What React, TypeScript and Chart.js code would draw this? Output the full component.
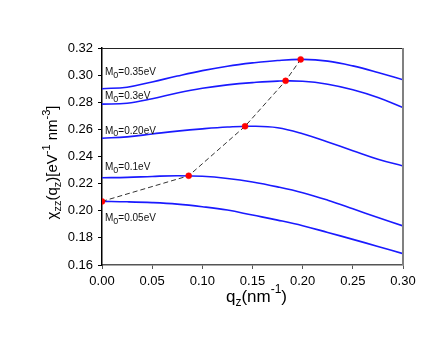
import React, { useEffect, useRef } from "react";
import { Chart, registerables } from "chart.js";

Chart.register(...registerables);

// ---- data ----
const qValues = [0, 0.025, 0.05, 0.075, 0.1, 0.125, 0.15, 0.175, 0.2, 0.225, 0.25, 0.275, 0.3];
const chiM035 = [0.29, 0.2911, 0.295, 0.2993, 0.3033, 0.3066, 0.309, 0.3108, 0.3116, 0.3103, 0.3068, 0.302, 0.2966];
const chiM030 = [0.2786, 0.2793, 0.2826, 0.2868, 0.2903, 0.2928, 0.2945, 0.2956, 0.2955, 0.2933, 0.2892, 0.2835, 0.2761];
const chiM020 = [0.2535, 0.2545, 0.2566, 0.2587, 0.2604, 0.2617, 0.2623, 0.2612, 0.2568, 0.2507, 0.2443, 0.238, 0.233];
const chiM010 = [0.2243, 0.2246, 0.2253, 0.2258, 0.2254, 0.2238, 0.2212, 0.2176, 0.2133, 0.2078, 0.2015, 0.195, 0.1888];
const chiM005 = [0.2069, 0.2066, 0.206, 0.2049, 0.203, 0.2005, 0.1968, 0.1931, 0.189, 0.184, 0.1789, 0.1737, 0.1684];

const peakQ = [0, 0.0864, 0.1426, 0.183, 0.198];
const peakChi = [0.2069, 0.2258, 0.2623, 0.2958, 0.3116];

const curveLabels = ["0.35eV", "0.3eV", "0.20eV", "0.1eV", "0.05eV"];
const labelChi = [0.2999, 0.2821, 0.2566, 0.23, 0.1923];

const xMin = 0, xMax = 0.3, xStep = 0.05;
const yMin = 0.16, yMax = 0.32, yStep = 0.02;

const FONT = "'Liberation Sans', Arial, Helvetica, sans-serif";

type Seg = { t: string; k?: "n" | "sub" | "sup" };

function segFont(k: string | undefined, size: number, ratio: number) {
  const s = k === "sub" || k === "sup" ? Math.round(size * ratio) : size;
  return `${s}px ${FONT}`;
}

function richWidth(ctx: CanvasRenderingContext2D, segs: Seg[], size: number, ratio: number) {
  let w = 0;
  for (const s of segs) {
    ctx.font = segFont(s.k, size, ratio);
    w += ctx.measureText(s.t).width;
  }
  return w;
}

function drawRich(
  ctx: CanvasRenderingContext2D,
  segs: Seg[],
  x: number,
  y: number,
  size: number,
  ratio: number,
  subDrop: number,
  supRise: number
) {
  let cx = x;
  ctx.textBaseline = "alphabetic";
  ctx.textAlign = "left";
  for (const s of segs) {
    ctx.font = segFont(s.k, size, ratio);
    const dy = s.k === "sub" ? subDrop : s.k === "sup" ? -supRise : 0;
    ctx.fillText(s.t, cx, y + dy);
    cx += ctx.measureText(s.t).width;
  }
}

const yTitle: Seg[] = [
  { t: "\u03c7" },
  { t: "zz", k: "sub" },
  { t: "(q" },
  { t: "z", k: "sub" },
  { t: ")[eV" },
  { t: "-1", k: "sup" },
  { t: " nm" },
  { t: "-3", k: "sup" },
  { t: "]" },
];
const xTitle: Seg[] = [
  { t: "q" },
  { t: "z", k: "sub" },
  { t: "(nm" },
  { t: "-1", k: "sup" },
  { t: ")" },
];

const decorPlugin = {
  id: "decor",
  afterDraw(chart: any) {
    const ctx: CanvasRenderingContext2D = chart.ctx;
    const { left, right, top, bottom } = chart.chartArea;
    const xs = chart.scales.x;
    const ys = chart.scales.y;
    ctx.save();
    // frame top and right
    ctx.strokeStyle = "#222";
    ctx.lineWidth = 1;
    ctx.beginPath();
    ctx.moveTo(left, top + 0.5);
    ctx.lineTo(right, top + 0.5);
    ctx.stroke();
    ctx.strokeStyle = "#808080";
    ctx.lineWidth = 2;
    ctx.beginPath();
    ctx.moveTo(right, top);
    ctx.lineTo(right, bottom);
    ctx.stroke();

    // curve labels
    ctx.fillStyle = "#111";
    curveLabels.forEach((lab, i) => {
      const px = xs.getPixelForValue(0) + 3;
      const py = ys.getPixelForValue(labelChi[i]);
      drawRich(ctx, [{ t: "M" }, { t: "0", k: "sub" }, { t: "=" + lab }], px, py, 10, 0.85, 2.5, 0);
    });

    // y title
    ctx.fillStyle = "#000";
    ctx.save();
    ctx.translate(57, (top + bottom) / 2 + 6);
    ctx.rotate(-Math.PI / 2);
    const wy = richWidth(ctx, yTitle, 15, 0.72);
    drawRich(ctx, yTitle, -wy / 2, 0, 15, 0.72, 4, 7);
    ctx.restore();

    // x title
    const wx = richWidth(ctx, xTitle, 17, 0.72);
    drawRich(ctx, xTitle, (left + right) / 2 + 4 - wx / 2, 302, 17, 0.72, 4, 9);
    ctx.restore();
  },
};

export default function App() {
  const ref = useRef<HTMLCanvasElement | null>(null);

  useEffect(() => {
    document.body.style.margin = "0";
    const canvas = ref.current;
    if (!canvas) return;
    const curves = [chiM035, chiM030, chiM020, chiM010, chiM005];
    const curveSets = curves.map((arr) => ({
      type: "line" as const,
      data: qValues.map((q, i) => ({ x: q, y: arr[i] })),
      borderColor: "#1a1aff",
      borderWidth: 1.6,
      pointRadius: 0,
      tension: 0.4,
      fill: false,
      order: 1,
    }));
    const peakSet = {
      type: "line" as const,
      data: peakQ.map((q, i) => ({ x: q, y: peakChi[i] })),
      borderColor: "#333",
      borderWidth: 1,
      borderDash: [5, 3],
      pointRadius: 3,
      pointBackgroundColor: "#ff0000",
      pointBorderColor: "#ff0000",
      pointBorderWidth: 0.5,
      tension: 0,
      fill: false,
      order: 0,
    };

    const tickFont = { family: FONT, size: 13 };
    const chart = new Chart(canvas, {
      type: "line",
      data: { datasets: [peakSet, ...curveSets] as any },
      options: {
        responsive: false,
        animation: false,
        devicePixelRatio: 1,
        layout: { padding: { top: 48, right: 33, left: 0, bottom: 0 } },
        plugins: { legend: { display: false }, tooltip: { enabled: false } },
        scales: {
          x: {
            type: "linear",
            min: xMin,
            max: xMax,
            afterFit: (s: any) => {
              s.height = 75;
            },
            border: { color: "#555", width: 1.5 },
            grid: { drawOnChartArea: false, drawTicks: true, tickLength: 4, color: "#555" },
            ticks: {
              stepSize: xStep,
              padding: 5,
              color: "#000",
              font: tickFont,
              callback: (v: any) => Number(v).toFixed(2),
            },
          },
          y: {
            type: "linear",
            min: yMin,
            max: yMax,
            afterFit: (s: any) => {
              s.width = 102;
            },
            border: { color: "#000", width: 1.5 },
            grid: { drawOnChartArea: false, drawTicks: true, tickLength: 4, color: "#000" },
            ticks: {
              stepSize: yStep,
              padding: 5,
              color: "#000",
              font: tickFont,
              callback: (v: any) => Number(v).toFixed(2),
            },
          },
        },
      } as any,
      plugins: [decorPlugin],
    });
    return () => chart.destroy();
  }, []);

  return (
    <div style={{ width: 436, height: 340 }}>
      <canvas ref={ref} width={436} height={340} style={{ display: "block" }} />
    </div>
  );
}
